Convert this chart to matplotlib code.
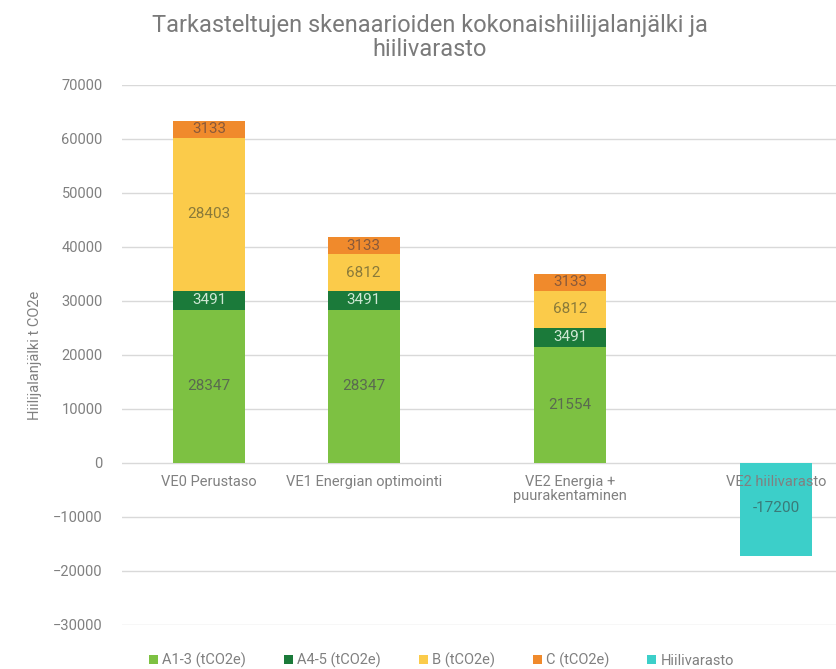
import numpy as np
import matplotlib
matplotlib.use('Agg')
import matplotlib.pyplot as plt

plt.rcParams['font.family'] = ['Roboto', 'DejaVu Sans']

categories = ['VE0 Perustaso', 'VE1 Energian optimointi', 'VE2 Energia +\npuurakentaminen', 'VE2 hiilivarasto']
a13 = [28347, 28347, 21554, 0]  # A1-3 (tCO2e)
a45 = [3491, 3491, 3491, 0]     # A4-5 (tCO2e)
b = [28403, 6812, 6812, 0]      # B (tCO2e)
c = [3133, 3133, 3133, 0]       # C (tCO2e)
hiili = [0, 0, 0, -17200]       # Hiilivarasto

series = [
    ('A1-3 (tCO2e)', a13, '#7dc142', '#5a6a50'),
    ('A4-5 (tCO2e)', a45, '#1b7a3a', '#cfe8d4'),
    ('B (tCO2e)', b, '#fbcb4a', '#8a7a3a'),
    ('C (tCO2e)', c, '#f08a2c', '#8a5a3a'),
]

x = np.array([0, 0.75, 1.75, 2.75])
w = 0.35

fig = plt.figure(figsize=(8.36, 6.69), dpi=100)
ax = fig.add_axes([0.146, 0.066, 0.854, 0.807])

bottom = np.zeros(len(x))
for name, vals, col, tcol in series:
    vals = np.array(vals, dtype=float)
    ax.bar(x, vals, w, bottom=bottom, color=col, label=name, zorder=2)
    for xi, bi, v in zip(x, bottom, vals):
        if v > 0:
            ax.text(xi, bi + v / 2, str(int(v)), ha='center', va='center',
                    fontsize=11, color=tcol, zorder=3)
    bottom += vals

h = np.array(hiili, dtype=float)
ax.bar(x, h, w, color='#3ccfc9', label='Hiilivarasto', zorder=2)
for xi, v in zip(x, h):
    if v < 0:
        ax.text(xi, -8300, str(int(v)), ha='center', va='center',
                fontsize=11, color='#3a7a78', zorder=3)

for xi, lab in zip(x, categories):
    ax.text(xi, -2200, lab, ha='center', va='top', fontsize=10.5,
            color='#808080', zorder=4, linespacing=1.05)

ax.set_ylim(-30000, 70000)
ax.set_xlim(-0.422, 3.04)
ax.set_yticks(np.arange(-30000, 70001, 10000))
ax.set_xticks([])
ax.grid(axis='y', color='#d9d9d9', linewidth=1, zorder=0)
ax.tick_params(axis='y', length=0, labelsize=10.5, labelcolor='#808080', pad=14)
for s in ax.spines.values():
    s.set_visible(False)
ax.set_ylabel('Hiilijalanjälki t CO2e', fontsize=10.5, color='#808080', labelpad=8)

fig.text(0.514, 0.944, 'Tarkasteltujen skenaarioiden kokonaishiilijalanjälki ja\nhiilivarasto',
         ha='center', va='center', fontsize=17, color='#7a7a7a', linespacing=1.1)

fig.legend(loc='lower center', bbox_to_anchor=(0.528, -0.018), ncol=5, frameon=False,
           fontsize=10.5, labelcolor='#808080', handlelength=0.6, handleheight=0.6,
           handletextpad=0.3, columnspacing=2.6)

fig.savefig('out.png', dpi=100)
